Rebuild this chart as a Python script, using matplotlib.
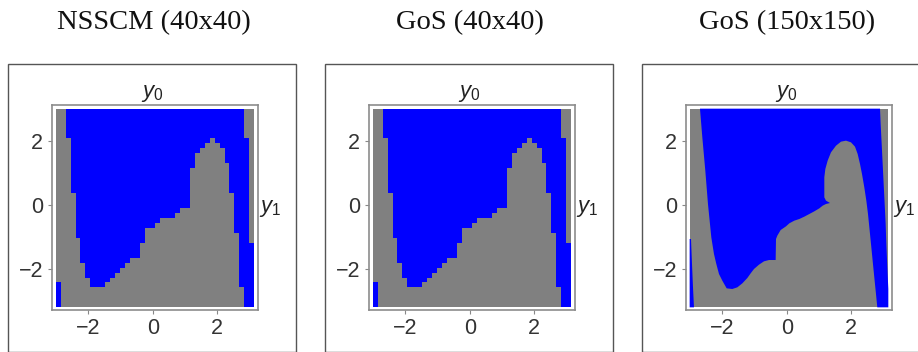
"""Basin maps for NSSCM and GoS on 40x40 and 150x150 grids, three framed panels."""

import matplotlib

matplotlib.use("Agg")

import matplotlib.pyplot as plt  # noqa: E402
import numpy as np  # noqa: E402
from matplotlib.colors import ListedColormap  # noqa: E402
from matplotlib.patches import Rectangle  # noqa: E402

BLUE = "#0000ff"
GRAY = "#808080"

titles = ["NSSCM (40x40)", "GoS (40x40)", "GoS (150x150)"]
ticks = [-2, 0, 2]

# 40x40 grids, per column (left to right) in cell counts from the bottom:
# blue from 0 to *_low, gray from *_low to *_high, blue from *_high to 40
nsscm_low = [5] + [0] * 37 + [34, 13]
nsscm_high = [40, 40, 34, 23, 14, 9, 6, 4, 4, 4, 5, 6, 7, 8, 9, 10, 10, 13, 16, 16,
              17, 18, 18, 18, 19, 20, 20, 28, 31, 32, 33, 34, 33, 32, 29, 23, 15, 4, 40, 40]
gos40_low = [5] + [0] * 37 + [34, 13]
gos40_high = [40, 40, 34, 23, 14, 9, 6, 4, 4, 4, 5, 6, 7, 8, 9, 10, 10, 13, 16, 16,
              17, 18, 18, 18, 19, 20, 20, 28, 31, 32, 33, 34, 33, 32, 29, 23, 15, 4, 40, 40]

# 150x150 grid, traced outline of the blue region (background is gray)
gos150_blue_x = [-2.701, 2.907, 2.927, 2.959, 2.990, 3.021, 3.052, 3.083, 3.104, 3.135,
                 3.166, 3.166, 2.823, 2.782, 2.740, 2.688, 2.637, 2.585, 2.533, 2.481,
                 2.418, 2.346, 2.284, 2.211, 2.128, 2.003, 1.847, 1.692, 1.536, 1.380,
                 1.276, 1.204, 1.172, 1.172, 1.172, 1.224, 1.349, 1.224, 1.120, 1.017,
                 0.861, 0.705, 0.549, 0.394, 0.238, 0.082, -0.022, -0.188, -0.292, -0.333,
                 -0.344, -0.551, -0.707, -0.863, -1.019, -1.122, -1.226, -1.382, -1.538,
                 -1.694, -1.870, -2.005, -2.109, -2.192, -2.265, -2.348, -2.452, -2.535,
                 -2.628]
gos150_blue_y = [2.996, 2.996, 2.519, 1.897, 1.275, 0.653, 0.031, -0.591, -1.213, -1.939,
                 -2.613, -3.183, -3.183, -2.768, -2.354, -1.835, -1.317, -0.798, -0.280,
                 0.135, 0.550, 0.964, 1.275, 1.586, 1.814, 1.949, 2.001, 1.970, 1.845,
                 1.638, 1.379, 1.120, 0.861, 0.550, 0.238, 0.135, 0.062, 0.031, -0.021,
                 -0.104, -0.197, -0.280, -0.363, -0.435, -0.487, -0.570, -0.664, -0.778,
                 -0.954, -1.058, -1.711, -1.711, -1.752, -1.856, -1.991, -2.125, -2.271,
                 -2.437, -2.561, -2.613, -2.592, -2.354, -2.146, -1.835, -1.524, -1.006,
                 0.031, 1.068, 2.105]
gos150_strip_x = [-3.023, -2.981, -2.950, -2.919, -2.888, -3.023]
gos150_strip_y = [-1.058, -1.058, -1.835, -2.561, -3.183, -3.183]

# data extent of the raster and the surrounding frame limits
X0, X1, Y0, Y1 = -3.023, 3.166, -3.183, 2.996
XLIM = (-3.146, 3.290)
YLIM = (-3.266, 3.110)

plt.rcParams["mathtext.fontset"] = "custom"
plt.rcParams["mathtext.it"] = "Liberation Sans:italic"
plt.rcParams["mathtext.rm"] = "Liberation Sans"

W, H = 918, 352
fig = plt.figure(figsize=(W / 100, H / 100), dpi=100)
step = 317
cmap = ListedColormap([BLUE, GRAY])


def grid_from_columns(low, high):
    rows = np.arange(40)[:, None]
    return ((rows >= np.array(low)[None, :]) & (rows < np.array(high)[None, :])).astype(int)


for i, title in enumerate(titles):
    off = i * step
    # outer panel box and title
    fig.add_artist(Rectangle(((8.3 + off) / W, 0.5 / H), 287.7 / W, (351.5 - 63.5) / H,
                             transform=fig.transFigure, fill=False, ec="#555555", lw=1.0))
    fig.text((153.4 + off) / W, 1 - 29.5 / H, title, ha="center", va="baseline",
             family="Liberation Serif", fontsize=20.5, color="#111111")

    ax = fig.add_axes([(51.7 + off) / W, 1 - 310 / H, 206.6 / W, 205 / H])
    if i < 2:
        low, high = (nsscm_low, nsscm_high) if i == 0 else (gos40_low, gos40_high)
        ax.pcolormesh(np.linspace(X0, X1, 41), np.linspace(Y0, Y1, 41),
                      grid_from_columns(low, high), cmap=cmap, vmin=0, vmax=1)
    else:
        ax.fill_between([X0, X1], Y0, Y1, color=GRAY, lw=0)
        ax.fill(gos150_blue_x, gos150_blue_y, color=BLUE, lw=0)
        ax.fill(gos150_strip_x, gos150_strip_y, color=BLUE, lw=0)

    ax.set_xlim(*XLIM)
    ax.set_ylim(*YLIM)
    ax.set_xticks(ticks)
    ax.set_yticks(ticks)
    ax.tick_params(direction="out", length=3, width=0.8, color="#888888",
                   labelcolor="#333333", labelsize=15.5, pad=3)
    for lab in ax.get_xticklabels() + ax.get_yticklabels():
        lab.set_family("Liberation Sans")
    for sp in ax.spines.values():
        sp.set_color("#8c8c8c")
        sp.set_linewidth(1.2)

    ax.text(0, YLIM[1] + 0.02, "$y_0$", ha="center", va="bottom", fontsize=16,
            color="#222222", transform=ax.transData)
    ax.text(XLIM[1] + 0.03, -0.1, "$y_1$", ha="left", va="center", fontsize=16,
            color="#222222", transform=ax.transData)

fig.savefig("out.png", dpi=100)
